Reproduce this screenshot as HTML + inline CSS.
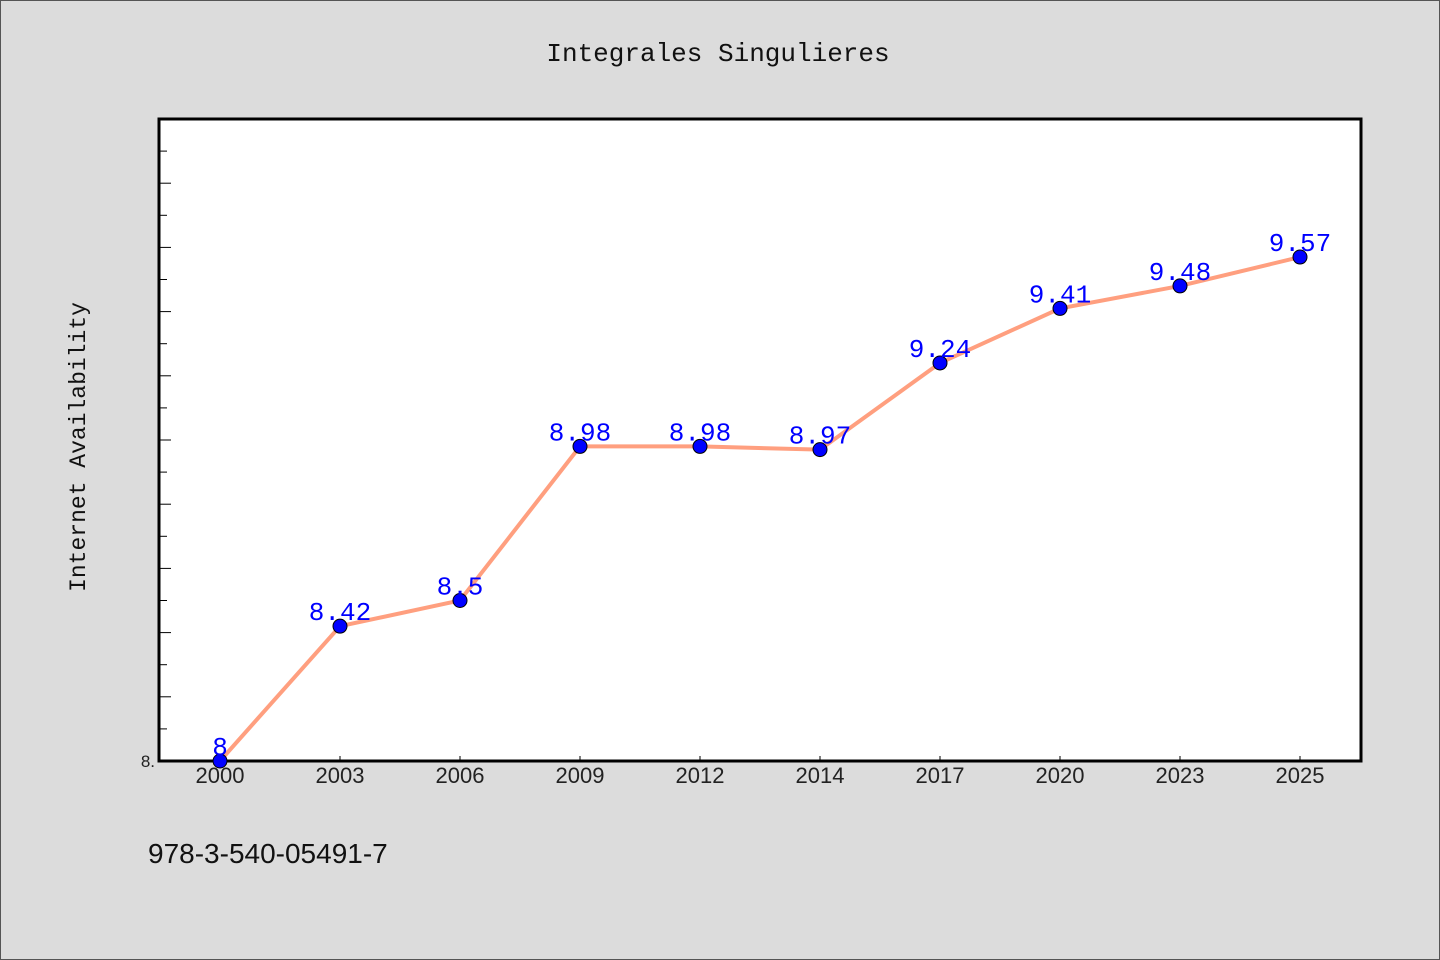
<!DOCTYPE html>
<html><head><meta charset="utf-8"><style>
body{margin:0;background:#dcdcdc;}
svg{display:block;}
</style></head><body>
<svg width="1440" height="960" xmlns="http://www.w3.org/2000/svg">
<rect x="0.5" y="0.5" width="1439" height="959" fill="#dcdcdc" stroke="#555"/>
<rect x="159" y="119" width="1202" height="642" fill="#fff"/>
<text x="718" y="61" text-anchor="middle" font-family="Liberation Mono, monospace" font-size="26" fill="#111">Integrales Singulieres</text>
<text transform="translate(85,447) rotate(-90)" text-anchor="middle" font-family="Liberation Mono, monospace" font-size="23" fill="#111">Internet Availability</text>
<text x="148" y="863" font-family="Liberation Sans, sans-serif" font-size="28" fill="#111">978-3-540-05491-7</text>
<g id="ticks"></g>
<g id="series"></g>
<path d="M159,761 L159,119 L1361,119 L1361,761 Z" fill="none" stroke="#000" stroke-width="3"/>
<g id="labels"></g>
</svg>
<script>
const categories=["2000","2003","2006","2009","2012","2014","2017","2020","2023","2025"];
const values=[8,8.42,8.5,8.98,8.98,8.97,9.24,9.41,9.48,9.57];
const valueLabels=["8","8.42","8.5","8.98","8.98","8.97","9.24","9.41","9.48","9.57"];
const yMin=8, yMax=10, yMinorStep=0.1;
const yTickLabels=["8."];
const L=159,R=1361,T=119,B=761;
const NS="http://www.w3.org/2000/svg";
function x(i){return 220+i*(1300-220)/(categories.length-1);}
function y(v){return B-(v-yMin)/(yMax-yMin)*(B-T);}
function mk(tag,attrs,parent){const e=document.createElementNS(NS,tag);for(const k in attrs)e.setAttribute(k,attrs[k]);parent.appendChild(e);return e;}
const tg=document.getElementById('ticks');
const n=Math.round((yMax-yMin)/yMinorStep);
for(let k=1;k<n;k++){const yy=y(yMin+k*yMinorStep);const len=(k%2===0)?12:8;
const t=mk('line',{x1:L,x2:L+len,y1:yy,y2:yy,stroke:'#000','stroke-width':1},tg);

}
const yl=mk('text',{x:155,y:767,'text-anchor':'end','font-family':'Liberation Sans, sans-serif','font-size':17,fill:'#222'},tg);
yl.textContent=yTickLabels[0];


categories.forEach((c,i)=>{
const t=mk('line',{x1:x(i),x2:x(i),y1:B,y2:B-5,stroke:'#000','stroke-width':1},tg);


const l=mk('text',{x:x(i),y:783,'text-anchor':'middle','font-family':'Liberation Sans, sans-serif','font-size':22,fill:'#222'},tg);
l.textContent=c;

});
const sg=document.getElementById('series');
const line=mk('polyline',{points:values.map((v,i)=>x(i)+','+y(v)).join(' '),fill:'none',stroke:'#ff9f7f','stroke-width':4},sg);


const lg=document.getElementById('labels');
values.forEach((v,i)=>{
const c=mk('circle',{cx:x(i),cy:y(v),r:7,fill:'#0000ff',stroke:'#000','stroke-width':1},lg);


const t=mk('text',{x:x(i),y:y(v)-6,'text-anchor':'middle','font-family':'Liberation Mono, monospace','font-size':26,fill:'#0000ff'},lg);
t.textContent=valueLabels[i];

});
</script>
</body></html>
